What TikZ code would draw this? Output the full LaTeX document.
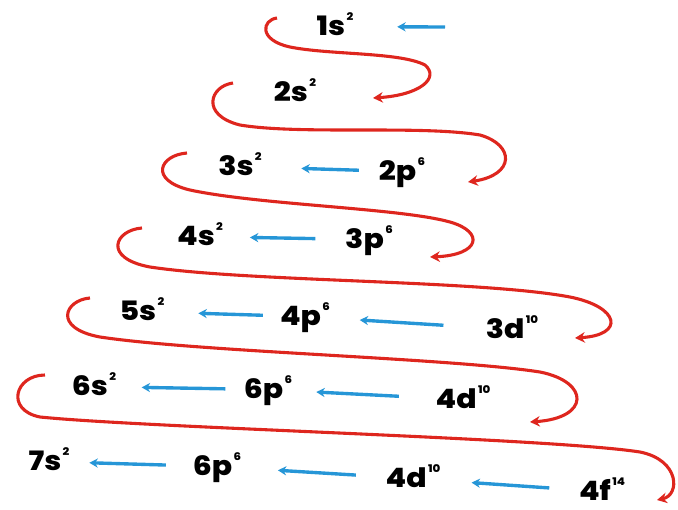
\documentclass[tikz,border=0pt]{standalone}
\usepackage{fontspec}
\setmainfont{Poppins}[BoldFont={Poppins ExtraBold}, BoldFeatures={FakeStretch=1.12}]
\usetikzlibrary{arrows.meta}

\definecolor{loopred}{RGB}{222,38,30}
\definecolor{fillblue}{RGB}{38,150,215}
\newcommand{\orb}[2]{#1\kern1pt\raisebox{10pt}{\fontsize{7.5}{7.5}\selectfont #2}}

\begin{document}
\begin{tikzpicture}[
        x=0.025cm, y=-0.025cm,
        orbital/.style={anchor=base, inner sep=0pt, text height=12pt, text depth=0pt,
            font=\fontsize{19}{19}\selectfont\bfseries},
        barr/.style={-{Stealth[length=6pt,width=6.5pt]}, line width=2.4pt, draw=fillblue},
        redloop/.style={-{Stealth[length=7pt,width=7.5pt]}, line width=2.2pt, draw=loopred}
    ]
    \useasboundingbox (0,0) rectangle (678,509);

    % orbitals, row by row
    \node[orbital] (s1) at (335,35) {\orb{1s}{2}};
    \node[orbital] (s2) at (295,101) {\orb{2s}{2}};
    \node[orbital] (s3) at (240,175) {\orb{3s}{2}};
    \node[orbital] (p2) at (402,180) {\orb{2p}{6}};
    \node[orbital] (s4) at (200,245) {\orb{4s}{2}};
    \node[orbital] (p3) at (369,248) {\orb{3p}{6}};
    \node[orbital] (s5) at (142,320) {\orb{5s}{2}};
    \node[orbital] (p4) at (305,325) {\orb{4p}{6}};
    \node[orbital] (d3) at (512,338) {\orb{3d}{10}};
    \node[orbital] (s6) at (94,395) {\orb{6s}{2}};
    \node[orbital] (p6a) at (268,398) {\orb{6p}{6}};
    \node[orbital] (d4a) at (463,408) {\orb{4d}{10}};
    \node[orbital] (s7) at (49,470) {\orb{7s}{2}};
    \node[orbital] (p6b) at (217,475) {\orb{6p}{6}};
    \node[orbital] (d4b) at (413,487) {\orb{4d}{10}};
    \node[orbital] (f4) at (602,500) {\orb{4f}{14}};

    % blue arrows
    \coordinate (t1) at (445,27);
    \draw[barr, shorten >=31pt] (t1) -- (s1);
    \draw[barr, shorten <=14pt, shorten >=28pt] (p2) -- (s3);
    \draw[barr, shorten <=21pt, shorten >=19pt] (p3) -- (s4);
    \draw[barr, shorten <=12pt, shorten >=24pt] (p4) -- (s5);
    \draw[barr, shorten <=30pt, shorten >=21pt] (d3) -- (p4);
    \draw[barr, shorten <=13pt, shorten >=18pt] (p6a) -- (s6);
    \draw[barr, shorten <=26pt, shorten >=17pt] (d4a) -- (p6a);
    \draw[barr, shorten <=19pt, shorten >=14pt] (p6b) -- (s7);
    \draw[barr, shorten <=21pt, shorten >=26pt] (d4b) -- (p6b);
    \draw[barr, shorten <=21pt, shorten >=22pt] (f4) -- (d4b);

    % red filling order
    \coordinate (a1) at (277,18);  \coordinate (b1) at (373,98);
    \coordinate (a2) at (233,83);  \coordinate (b2) at (468,182);
    \coordinate (a3) at (187,153); \coordinate (b3) at (430,257);
    \coordinate (a4) at (142,228); \coordinate (b4) at (575,338);
    \coordinate (a5) at (90,298);  \coordinate (b5) at (530,422);
    \coordinate (a6) at (45,375);  \coordinate (b6) at (657,500);
    \draw[redloop] (a1) .. controls (262,20) and (258,40) .. (290,47)
        .. controls (330,55) and (400,52) .. (425,65)
        .. controls (440,78) and (420,95) .. (b1);
    \draw[redloop] (a2) .. controls (210,86) and (200,115) .. (240,125)
        .. controls (300,135) and (420,125) .. (480,135)
        .. controls (515,145) and (515,175) .. (b2);
    \draw[redloop] (a3) .. controls (160,155) and (148,180) .. (190,190)
        .. controls (260,205) and (400,208) .. (450,222)
        .. controls (485,232) and (480,255) .. (b3);
    \draw[redloop] (a4) .. controls (115,230) and (102,258) .. (150,267)
        .. controls (250,282) and (480,280) .. (570,297)
        .. controls (620,307) and (625,335) .. (b4);
    \draw[redloop] (a5) .. controls (65,300) and (52,328) .. (100,337)
        .. controls (200,352) and (450,358) .. (540,372)
        .. controls (590,382) and (590,418) .. (b5);
    \draw[redloop] (a6) .. controls (15,375) and (5,410) .. (40,417)
        .. controls (150,428) and (550,438) .. (640,452)
        .. controls (680,460) and (680,495) .. (b6);
\end{tikzpicture}
\end{document}
